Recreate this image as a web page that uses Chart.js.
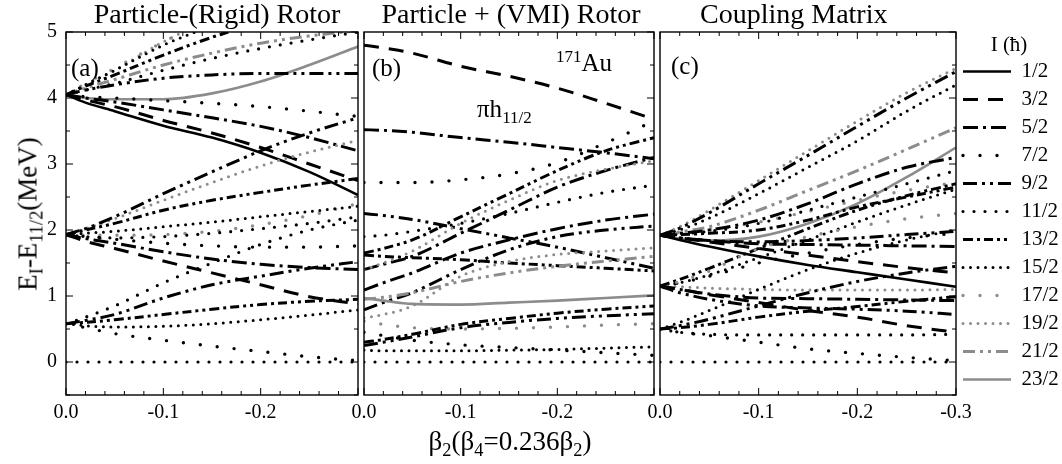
<!DOCTYPE html>
<html>
<head>
<meta charset="utf-8">
<script src="https://cdn.jsdelivr.net/npm/chart.js@4.4.1/dist/chart.umd.min.js"></script>
<style>
  body { margin: 0; background: #fff; }
  #wrap { position: relative; width: 1062px; height: 464px; overflow: hidden;
          font-family: "Liberation Serif", "Times New Roman", serif; color: #000; }
  canvas { position: absolute; top: 0; }
  .txt { position: absolute; white-space: nowrap; line-height: 1; }
  sub, sup { font-size: 0.68em; line-height: 0; }
</style>
</head>
<body>
<div id="wrap">
  <canvas id="panelA" width="364" height="464" style="left:0"></canvas>
  <canvas id="panelB" width="316" height="464" style="left:344px"></canvas>
  <canvas id="panelC" width="422" height="464" style="left:640px"></canvas>

  <div class="txt" style="left:217px;top:0px;font-size:28px;transform:translateX(-50%)">Particle-(Rigid) Rotor</div>
  <div class="txt" style="left:511px;top:0px;font-size:28px;transform:translateX(-50%)">Particle + (VMI) Rotor</div>
  <div class="txt" style="left:700px;top:0px;font-size:28px">Coupling Matrix</div>

  <div class="txt" style="left:71px;top:55px;font-size:25px">(a)</div>
  <div class="txt" style="left:372px;top:55px;font-size:25px">(b)</div>
  <div class="txt" style="left:671px;top:53px;font-size:25px">(c)</div>
  <div class="txt" style="left:556px;top:50px;font-size:25px"><sup>171</sup>Au</div>
  <div class="txt" style="left:477px;top:96px;font-size:25px">&pi;h<sub>11/2</sub></div>

  <div class="txt" style="left:510px;top:428px;font-size:27px;transform:translateX(-50%)">&beta;<sub>2</sub>(&beta;<sub>4</sub>=0.236&beta;<sub>2</sub>)</div>
  <div class="txt" style="left:28px;top:214px;font-size:27px;transform:translate(-50%,-50%) rotate(-90deg)">E<sub>I</sub>-E<sub>11/2</sub>(MeV)</div>
</div>

<script>
// deformation grid shared by all panels
const betas = [0, -0.02, -0.05, -0.1, -0.15, -0.2, -0.25, -0.3];
const betaTicks = [0, -0.1, -0.2, -0.3];
const energyTicks = [0, 1, 2, 3, 4, 5];
const spins = ['1/2', '3/2', '5/2', '7/2', '9/2', '11/2', '13/2', '15/2', '17/2', '19/2', '21/2', '23/2'];

// each row: spin, then E_I - E_11/2 (MeV) at every beta
const rigidLevels = [
  ['11/2', 0, 0, 0, 0, 0, 0, 0, 0],
  ['7/2', 0.58, 0.52, 0.43, 0.33, 0.24, 0.16, 0.08, 0.02],
  ['15/2', 0.58, 0.55, 0.53, 0.54, 0.58, 0.64, 0.71, 0.79],
  ['13/2', 0.58, 0.6, 0.64, 0.72, 0.8, 0.87, 0.92, 0.95],
  ['9/2', 0.58, 0.63, 0.72, 0.97, 1.17, 1.3, 1.42, 1.52],
  ['11/2', 0.58, 0.68, 0.85, 1.2, 1.5, 1.78, 2.0, 2.15],
  ['3/2', 1.93, 1.83, 1.72, 1.53, 1.35, 1.17, 0.99, 0.88],
  ['5/2', 1.93, 1.87, 1.8, 1.67, 1.56, 1.48, 1.43, 1.4],
  ['7/2', 1.93, 1.9, 1.86, 1.8, 1.76, 1.74, 1.74, 1.76],
  ['9/2', 1.93, 2.02, 2.2, 2.55, 2.88, 3.2, 3.47, 3.7],
  ['11/2', 1.93, 1.9, 1.88, 1.9, 1.95, 2.02, 2.1, 2.2],
  ['13/2', 1.93, 2.0, 2.1, 2.3, 2.45, 2.57, 2.68, 2.78],
  ['15/2', 1.93, 1.95, 1.98, 2.05, 2.12, 2.2, 2.28, 2.36],
  ['17/2', 1.93, 1.92, 1.92, 1.93, 1.98, 2.08, 2.22, 2.4],
  ['19/2', 1.93, 2.02, 2.17, 2.45, 2.72, 2.97, 3.18, 3.36],
  ['1/2', 4.05, 3.93, 3.8, 3.58, 3.4, 3.17, 2.88, 2.53],
  ['3/2', 4.05, 3.97, 3.87, 3.66, 3.47, 3.25, 3.0, 2.75],
  ['5/2', 4.05, 4.0, 3.94, 3.82, 3.7, 3.57, 3.4, 3.2],
  ['7/2', 4.05, 4.02, 4.0, 3.96, 3.92, 3.87, 3.8, 3.72],
  ['9/2', 4.05, 4.12, 4.2, 4.3, 4.35, 4.37, 4.37, 4.37],
  ['11/2', 4.05, 4.12, 4.22, 4.42, 4.6, 4.75, 4.88, 5.0],
  ['13/2', 4.05, 4.18, 4.35, 4.65, 4.92, 5.15, 5.4, 5.6],
  ['15/2', 4.05, 4.2, 4.42, 4.8, 5.1, 5.4, 5.6, 5.8],
  ['17/2', 4.05, 4.22, 4.45, 4.85, 5.2, 5.5, 5.8, 6.0],
  ['19/2', 4.05, 4.2, 4.42, 4.85, 5.2, 5.5, 5.8, 6.0],
  ['21/2', 4.05, 4.15, 4.28, 4.5, 4.68, 4.83, 4.94, 5.02],
  ['23/2', 4.05, 4.0, 3.98, 3.98, 4.07, 4.25, 4.5, 4.78]
];

const vmiLevels = [
  ['11/2', 0, 0, 0, 0, 0, 0, 0, 0],
  ['15/2', 0.18, 0.17, 0.17, 0.17, 0.18, 0.19, 0.21, 0.23],
  ['7/2', 0.45, 0.4, 0.33, 0.26, 0.22, 0.18, 0.14, 0.1],
  ['9/2', 0.25, 0.3, 0.38, 0.52, 0.6, 0.66, 0.7, 0.73],
  ['13/2', 0.3, 0.34, 0.42, 0.57, 0.66, 0.74, 0.8, 0.85],
  ['17/2', 0.62, 0.57, 0.52, 0.5, 0.51, 0.53, 0.56, 0.58],
  ['23/2', 0.97, 0.93, 0.88, 0.87, 0.9, 0.93, 0.97, 1.01],
  ['21/2', 0.95, 0.98, 1.05, 1.22, 1.35, 1.45, 1.53, 1.6],
  ['19/2', 0.67, 0.72, 0.85, 1.3, 1.52, 1.63, 1.68, 1.73],
  ['9/2', 0.79, 0.9, 1.05, 1.4, 1.7, 1.9, 2.0, 2.06],
  ['5/2', 1.09, 1.2, 1.35, 1.65, 1.85, 2.02, 2.15, 2.24],
  ['13/2', 1.62, 1.6, 1.58, 1.55, 1.5, 1.46, 1.42, 1.38],
  ['19/2', 1.4, 1.5, 1.68, 2.1, 2.45, 2.75, 2.92, 3.05],
  ['5/2', 1.4, 1.48, 1.6, 1.95, 2.3, 2.65, 2.9, 3.1],
  ['13/2', 1.65, 1.72, 1.85, 2.2, 2.55, 2.9, 3.2, 3.4],
  ['11/2', 1.9, 1.92, 1.98, 2.1, 2.25, 2.42, 2.57, 2.68],
  ['9/2', 2.25, 2.22, 2.16, 2.02, 1.88, 1.74, 1.58, 1.42],
  ['7/2', 2.72, 2.72, 2.72, 2.76, 2.85, 3.02, 3.32, 3.65],
  ['5/2', 3.52, 3.51, 3.48, 3.4, 3.33, 3.25, 3.17, 3.08],
  ['3/2', 4.8, 4.76, 4.68, 4.48, 4.33, 4.15, 3.92, 3.68]
];

const couplingLevels = [
  ['11/2', 0, 0, 0, 0, 0, 0, 0, 0],
  ['7/2', 0.5, 0.45, 0.4, 0.3, 0.2, 0.13, 0.07, 0.02],
  ['11/2', 0.5, 0.45, 0.42, 0.41, 0.41, 0.41, 0.41, 0.42],
  ['13/2', 0.5, 0.52, 0.57, 0.68, 0.77, 0.84, 0.92, 0.99],
  ['9/2', 0.5, 0.55, 0.65, 0.85, 1.05, 1.22, 1.35, 1.45],
  ['15/2', 0.5, 0.6, 0.78, 1.1, 1.4, 1.65, 1.85, 2.0],
  ['3/2', 1.15, 1.1, 1.02, 0.9, 0.78, 0.68, 0.55, 0.45],
  ['5/2', 1.15, 1.1, 1.03, 0.97, 0.96, 0.95, 0.94, 0.93],
  ['9/2', 1.15, 1.05, 0.95, 0.85, 0.82, 0.8, 0.77, 0.72],
  ['19/2', 1.15, 1.14, 1.12, 1.1, 1.09, 1.09, 1.09, 1.1],
  ['17/2', 1.15, 1.22, 1.38, 1.72, 1.9, 2.05, 2.17, 2.25],
  ['13/2', 1.15, 1.25, 1.42, 1.72, 2.02, 2.3, 2.52, 2.7],
  ['7/2', 1.15, 1.2, 1.3, 1.5, 1.65, 1.78, 1.88, 1.95],
  ['15/2', 1.15, 1.2, 1.32, 1.58, 1.85, 2.12, 2.38, 2.62],
  ['1/2', 1.92, 1.85, 1.75, 1.6, 1.47, 1.36, 1.25, 1.14],
  ['3/2', 1.92, 1.88, 1.82, 1.72, 1.62, 1.52, 1.43, 1.35],
  ['5/2', 1.92, 1.88, 1.84, 1.79, 1.78, 1.77, 1.76, 1.75],
  ['9/2', 1.92, 1.88, 1.84, 1.82, 1.84, 1.88, 1.93, 1.98],
  ['11/2', 1.92, 1.94, 1.98, 2.1, 2.3, 2.5, 2.7, 2.9],
  ['13/2', 1.92, 1.93, 1.95, 2.0, 2.15, 2.35, 2.5, 2.65],
  ['5/2', 1.92, 1.95, 2.0, 2.15, 2.4, 2.7, 2.95, 3.1],
  ['17/2', 1.92, 1.95, 2.0, 2.12, 2.28, 2.45, 2.6, 2.72],
  ['15/2', 1.92, 2.0, 2.18, 2.55, 2.95, 3.35, 3.8, 4.2],
  ['9/2', 1.92, 2.03, 2.26, 2.7, 3.13, 3.57, 4.0, 4.4],
  ['19/2', 1.92, 2.05, 2.3, 2.75, 3.2, 3.65, 4.08, 4.45],
  ['21/2', 1.92, 1.97, 2.05, 2.3, 2.6, 2.9, 3.22, 3.55],
  ['23/2', 1.92, 1.87, 1.84, 1.9, 2.1, 2.4, 2.8, 3.25]
];

// line look for every spin
const BLACK = '#000000';
const GREY = '#8c8c8c';
const spinStyle = {
  '1/2':  { color: BLACK, width: 2.6, dash: [], cap: 'butt' },
  '3/2':  { color: BLACK, width: 3, dash: [15, 10], cap: 'butt' },
  '5/2':  { color: BLACK, width: 3, dash: [15, 5, 3, 5], cap: 'butt' },
  '7/2':  { color: BLACK, width: 3.4, dash: [0, 17], cap: 'round' },
  '9/2':  { color: BLACK, width: 3, dash: [14, 5, 3, 5, 3, 5], cap: 'butt' },
  '11/2': { color: BLACK, width: 3.2, dash: [0, 11], cap: 'round' },
  '13/2': { color: BLACK, width: 3, dash: [10, 4, 3, 4, 9, 4, 3, 4, 3, 4], cap: 'butt' },
  '15/2': { color: BLACK, width: 3, dash: [0, 7.5], cap: 'round' },
  '17/2': { color: GREY, width: 3.4, dash: [0, 17], cap: 'round' },
  '19/2': { color: GREY, width: 3, dash: [0, 7.5], cap: 'round' },
  '21/2': { color: GREY, width: 3, dash: [12, 5, 3, 5, 3, 5], cap: 'butt' },
  '23/2': { color: GREY, width: 2.6, dash: [], cap: 'butt' }
};

function toDataset(row) {
  const [spin, ...energies] = row;
  const st = spinStyle[spin];
  return {
    label: spin,
    data: betas.map((b, i) => ({ x: b, y: energies[i] })),
    borderColor: st.color,
    borderWidth: st.width,
    borderDash: st.dash,
    borderCapStyle: st.cap,
    pointRadius: 0,
    fill: false,
    cubicInterpolationMode: 'monotone'
  };
}

// frame and inward ticks on the plot box
const frameTicks = {
  id: 'frameTicks',
  afterDatasetsDraw(chart, args, opts) {
    const { ctx, chartArea: a, scales: { x, y } } = chart;
    const seg = (x1, y1, x2, y2) => { ctx.beginPath(); ctx.moveTo(x1, y1); ctx.lineTo(x2, y2); ctx.stroke(); };
    ctx.save();
    ctx.strokeStyle = '#000';
    ctx.lineWidth = 1.4;
    ctx.setLineDash([]);
    ctx.strokeRect(a.left, a.top, a.right - a.left, a.bottom - a.top);
    ctx.lineWidth = 1;
    for (let i = 0; i <= 15; i++) {
      const px = x.getPixelForValue(-i * 0.02);
      const len = i % 5 === 0 ? 7 : 4;
      seg(px, a.bottom, px, a.bottom - len);
      seg(px, a.top, px, a.top + len);
    }
    for (let i = -1; i <= 10; i++) {
      const py = y.getPixelForValue(i * 0.5);
      const len = i % 2 === 0 ? 7 : 4;
      if (opts.left) seg(a.left, py, a.left + len, py);
      seg(a.right, py, a.right - len, py);
    }
    ctx.restore();
  }
};

Chart.defaults.font.family = '"Liberation Serif", "Times New Roman", serif';
Chart.defaults.color = '#000';

function makePanel(id, levels, cfg) {
  return new Chart(document.getElementById(id), {
    type: 'line',
    data: { datasets: levels.map(toDataset) },
    options: {
      responsive: false,
      animation: false,
      devicePixelRatio: 1,
      layout: { padding: { top: 32, left: 0, right: 0, bottom: 0 } },
      scales: {
        x: {
          type: 'linear', min: -0.3, max: 0, reverse: true,
          afterBuildTicks: s => { s.ticks = betaTicks.map(v => ({ value: v })); },
          afterFit: s => { s.height = 69; },
          grid: { display: false, drawTicks: false }, border: { display: false },
          ticks: {
            font: { size: 20 }, padding: 6, maxRotation: 0, autoSkip: false,
            callback: v => (cfg.lastLabel || v > -0.25) ? v.toFixed(1) : ''
          }
        },
        y: {
          type: 'linear', min: -0.5, max: 5,
          afterBuildTicks: s => { s.ticks = energyTicks.map(v => ({ value: v })); },
          afterFit: s => { s.width = cfg.yWidth; },
          grid: { display: false, drawTicks: false }, border: { display: false },
          ticks: { display: cfg.yLabels, font: { size: 20 }, padding: 9 }
        }
      },
      plugins: {
        legend: cfg.legend || { display: false },
        tooltip: { enabled: false },
        frameTicks: { left: cfg.leftTicks }
      }
    },
    plugins: [frameTicks]
  });
}

makePanel('panelA', rigidLevels, { yWidth: 66, yLabels: true, leftTicks: true, lastLabel: false });
makePanel('panelB', vmiLevels, { yWidth: 20, yLabels: false, leftTicks: false, lastLabel: false });
makePanel('panelC', couplingLevels, {
  yWidth: 20, yLabels: false, leftTicks: false, lastLabel: true,
  legend: {
    display: true, position: 'right', align: 'start', maxWidth: 106,
    onClick: null,
    title: { display: true, text: 'I (\u0127)', font: { size: 21, lineHeight: 1 }, padding: { top: 3, bottom: -2 } },
    labels: {
      usePointStyle: true, pointStyleWidth: 48, padding: 7, font: { size: 21 },
      generateLabels: () => spins.map(s => ({
        text: s,
        strokeStyle: spinStyle[s].color,
        fillStyle: spinStyle[s].color,
        fontColor: '#000',
        lineWidth: spinStyle[s].width,
        lineDash: spinStyle[s].dash,
        lineCap: spinStyle[s].cap,
        pointStyle: 'line',
        hidden: false
      }))
    }
  }
});
</script>
</body>
</html>
